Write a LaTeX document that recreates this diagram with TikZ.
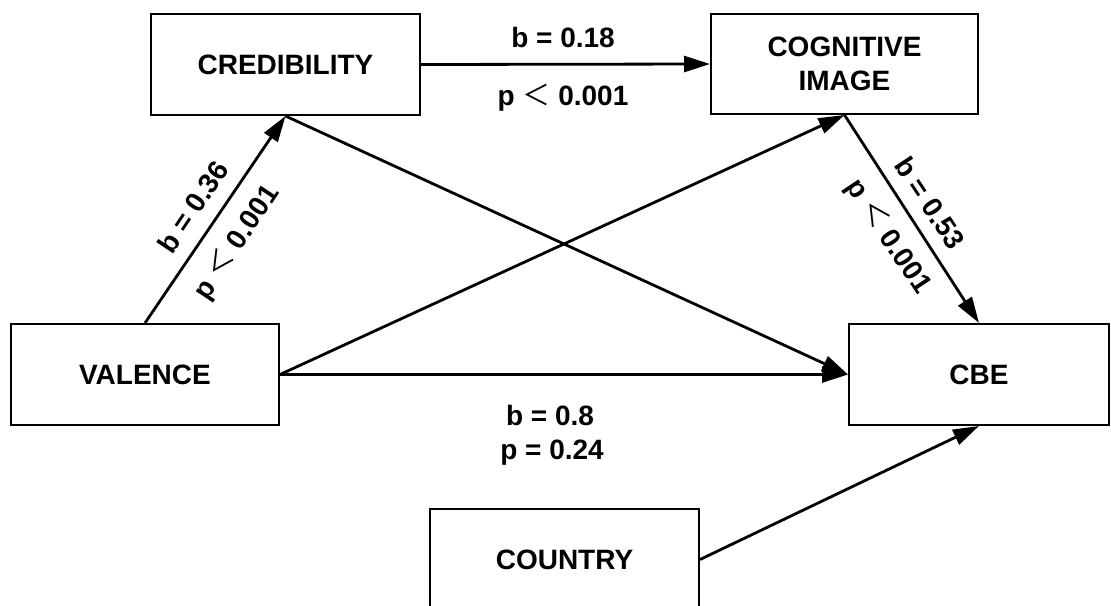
\documentclass[tikz,border=0pt]{standalone}
\usepackage{fontspec}
\setmainfont{Liberation Sans}
\newfontfamily\cjkfont{Noto Sans CJK SC}
\newcommand\lessfw{{\cjkfont\mdseries ＜}}
\usetikzlibrary{arrows.meta}
\begin{document}
\begin{tikzpicture}[x=0.5pt,y=-0.5pt,
  box/.style={draw, line width=1pt, rectangle, inner sep=0pt,
    font=\fontsize{14}{17}\selectfont\bfseries, align=center},
  arr/.style={line width=1.4pt, -{Triangle[length=13pt,width=8pt]}},
  lab/.style={font=\fontsize{14}{17}\selectfont\bfseries, inner sep=0pt}]
\fill[white] (0,0) rectangle (1111,605);
\clip (0,0) rectangle (1111,605);
\useasboundingbox (0,0) rectangle (1111,605);

% boxes
\node[box, minimum width=134.5pt, minimum height=50.5pt] (cred) at (285.5,64.5) {CREDIBILITY};
\node[box, minimum width=133.5pt, minimum height=50pt] (cog) at (844.5,64) {COGNITIVE\\IMAGE};
\node[box, minimum width=134pt, minimum height=50.5pt] (val) at (145,374.5) {VALENCE};
\node[box, minimum width=130pt, minimum height=50.5pt] (cbe) at (979,374.5) {CBE};
\node[box, minimum width=134.5pt, minimum height=50.5pt] (country) at (564.5,559.5) {COUNTRY};

% connectors
\draw[arr] (val.north) -- (cred.south);
\draw[arr] (cred.east) -- (cog.west);
\draw[arr] (cred.south) -- (cbe.west);
\draw[arr] (val.east) -- (cog.south);
\draw[arr] (val.east) -- (cbe.west);
\draw[arr] (cog.south) -- (cbe.north);
\draw[arr] (country.east) -- (cbe.south);

% labels
\node[lab, anchor=base] (l1) at (563,47) {b = 0.18};
\node[lab, anchor=base] (l2) at (563,105) {p \lessfw{} 0.001};
\node[lab, anchor=base] (l3) at (550,425) {b = 0.8};
\node[lab, anchor=base] (l4) at (552,459) {p = 0.24};
\node[lab, rotate=56.2] (l5) at (193,207) {b = 0.36};
\node[lab, rotate=56.2] (l6) at (237,243) {p \lessfw{} 0.001};
\node[lab, rotate=-56.4] (l7) at (930,203) {b = 0.53};
\node[lab, rotate=-56.4] (l8) at (888,237) {p \lessfw{} 0.001};
\end{tikzpicture}
\end{document}
